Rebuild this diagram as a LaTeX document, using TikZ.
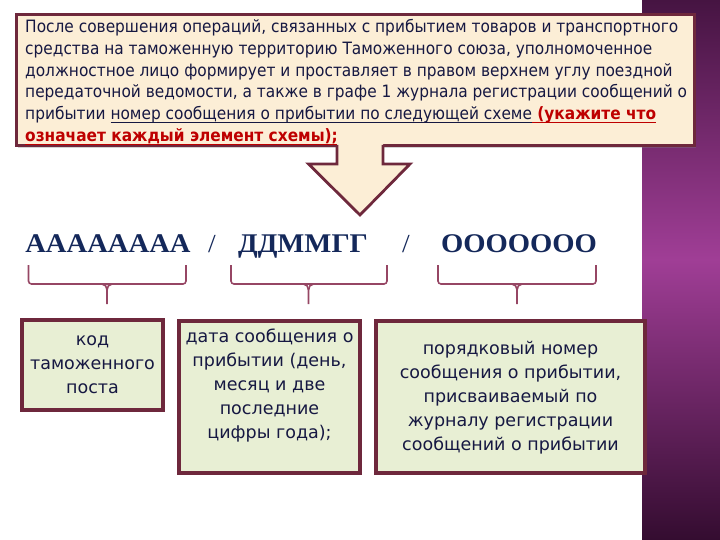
\documentclass[tikz,border=0pt]{standalone}
\usepackage{fontspec}
\usetikzlibrary{shadows}
\setmainfont{DejaVu Sans}
\newfontfamily\qfont[FakeStretch=0.905]{DejaVu Sans}
\newfontfamily\bxfont{DejaVu Sans}
\newfontfamily\scfont[FakeStretch=1.06]{Liberation Serif}
\newcommand{\ulx}[1]{\setbox0\hbox{#1}\rlap{\rule[-3.2pt]{\wd0}{1.1pt}}\box0}
\definecolor{maroon}{RGB}{110,40,60}
\definecolor{bracecol}{RGB}{150,70,100}
\definecolor{cream}{RGB}{252,238,214}
\definecolor{pale}{RGB}{232,239,212}
\definecolor{ink}{RGB}{22,24,66}
\definecolor{navy}{RGB}{20,40,90}
\definecolor{qred}{RGB}{190,0,0}
\definecolor{pdark}{RGB}{70,20,66}
\definecolor{pmid}{RGB}{160,62,150}
\definecolor{pbot}{RGB}{52,12,48}
\begin{document}
\begin{tikzpicture}[x=1pt,y=-1pt,
  qbox/.style={draw=maroon,line width=3pt,fill=cream,minimum width=678pt,minimum height=131pt,inner sep=0pt,
    drop shadow={shadow xshift=2pt,shadow yshift=-2pt,opacity=0.35}},
  gbox/.style={draw=maroon,line width=3.2pt,fill=pale,inner sep=0pt,
    drop shadow={shadow xshift=2pt,shadow yshift=-2pt,opacity=0.3}},
  gtext/.style={text=ink,align=center,font={\bxfont\fontsize{17.5}{24}\selectfont}},
  scheme/.style={text=navy,font={\scfont\bfseries\fontsize{27}{30}\selectfont},inner sep=0pt,anchor=base},
  slash/.style={text=navy,font={\scfont\fontsize{26}{30}\selectfont},inner sep=0pt,anchor=base},
  bracestyle/.style={draw=bracecol,line width=1.6pt,rounded corners=3pt}]
\useasboundingbox (0,0) rectangle (720,540);
% purple strip
\shade[top color=pdark,bottom color=pmid] (642,0) rectangle (720,260);
\shade[top color=pmid,bottom color=pbot] (642,259.5) rectangle (720,540);
% top box
\node[qbox] (q) at (355,80.5) {};
\node[anchor=north west,align=left,inner sep=0pt,text=ink,
  font={\qfont\fontsize{17}{21.8}\selectfont}] (qt) at (25,19)
{После совершения операций, связанных с прибытием товаров и транспортного\\
средства на таможенную территорию Таможенного союза, уполномоченное\\
должностное лицо формирует и проставляет в правом верхнем углу поездной\\
передаточной ведомости, а также в графе 1 журнала регистрации сообщений о\\
прибытии \ulx{номер сообщения о прибытии по следующей схеме}{\color{qred}\bfseries\ulx{ (укажите что}}\\
{\color{qred}\bfseries\ulx{означает каждый элемент схемы);}}};
% arrow
\coordinate (at) at (360,215);
\fill[cream] (337,143) -- (337,164) -- (308.5,164) -- (at) -- (410,164) -- (383,164) -- (383,143) -- cycle;
\draw[maroon,line width=2.8pt,line join=miter] (337,145) -- (337,164) -- (308.5,164) -- (at) -- (410,164) -- (383,164) -- (383,145);
% scheme
\node[scheme] (a) at (108,252) {АААААААА};
\node[slash] (s1) at (212,252) {/};
\node[scheme] (d) at (303,252) {ДДММГГ};
\node[slash] (s2) at (406,252) {/};
\node[scheme] (o) at (519,252) {ООООООО};
% boxes
\node[gbox,minimum width=141pt,minimum height=90pt] (b1) at (92.5,365) {};
\node[gbox,minimum width=181pt,minimum height=152pt] (b2) at (269.5,397) {};
\node[gbox,minimum width=269pt,minimum height=152pt] (b3) at (510.5,397) {};
\node[gtext] (t1) at (92.5,365) {код\\таможенного\\поста};
\node[gtext] (t2) at (269.5,386) {дата сообщения о\\прибытии (день,\\месяц и две\\последние\\цифры года);};
\node[gtext] (t3) at (510.5,398) {порядковый номер\\сообщения о прибытии,\\присваиваемый по\\журналу регистрации\\сообщений о прибытии};
% braces
\foreach \l/\r/\m/\n in {28.5/186/107/b1, 231/387/308.5/b2, 438/596/517/b3}{
  \draw[bracestyle] (\l,265) -- (\l,284) -- (\r,284) -- (\r,265);
  \draw[draw=bracecol,line width=1.6pt] (\m-5,284) to[out=0,in=90] (\m,290) -- (\m,304);
  \draw[draw=bracecol,line width=1.6pt] (\m+5,284) to[out=180,in=90] (\m,290);
}
\end{tikzpicture}
\end{document}
